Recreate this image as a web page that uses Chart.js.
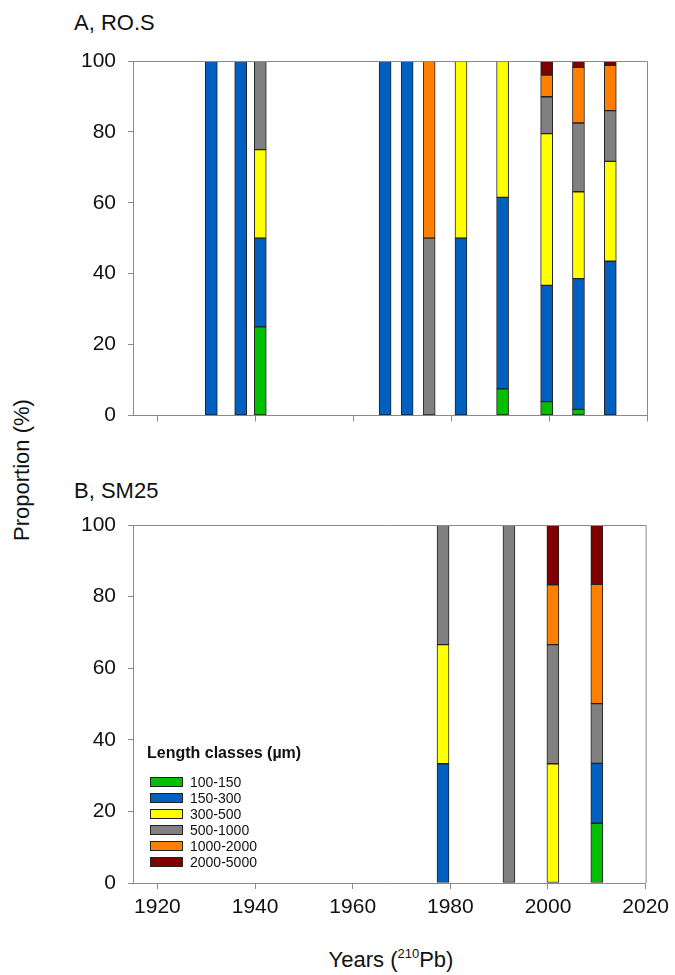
<!DOCTYPE html>
<html>
<head>
<meta charset="utf-8">
<script src="https://cdn.jsdelivr.net/npm/chart.js@4"></script>
<style>
  body { margin: 0; background: #fff; }
  #wrap { position: relative; width: 675px; height: 975px; font-family: "Liberation Sans", Arial, sans-serif; color: #111; }
  canvas { position: absolute; left: 0; }
  .lbl { position: absolute; font-size: 22px; white-space: nowrap; }
  sup { font-size: 13px; vertical-align: 9px; line-height: 0; }
</style>
</head>
<body>
<div id="wrap">
  <div class="lbl" style="left:74px; top:10px;">A, RO.S</div>
  <div class="lbl" style="left:74px; top:478px;">B, SM25</div>
  <div class="lbl" style="left:22px; top:470px; transform: translate(-50%,-50%) rotate(-90deg);">Proportion (%)</div>
  <div class="lbl" style="left:391px; top:960px; transform: translate(-50%,-50%);">Years (<sup>210</sup>Pb)</div>
  <canvas id="chartA" width="675" height="440" style="top:0"></canvas>
  <canvas id="chartB" width="675" height="515" style="top:460px"></canvas>
</div>
<script>
// length classes
const classes = ["100-150", "150-300", "300-500", "500-1000", "1000-2000", "2000-5000"];
const colors = ["#00c000", "#0060c0", "#ffff00", "#808080", "#ff8000", "#800000"];
const yearTicks = [1920, 1940, 1960, 1980, 2000, 2020];

// A, RO.S
const yearsA = [1931, 1937, 1941, 1966.5, 1971, 1975.5, 1982, 1990.5, 1999.5, 2006, 2012.5];
const a100_150   = [null, null, 25, null, null, null, null, 7.5, 3.9, 1.7, null];
const a150_300   = [100, 100, 25, 100, 100, null, 50, 54, 32.8, 36.9, 43.5];
const a300_500   = [null, null, 25, null, null, null, 50, 38.5, 42.8, 24.5, 28.2];
const a500_1000  = [null, null, 25, null, null, 50, null, null, 10.4, 19.4, 14.3];
const a1000_2000 = [null, null, null, null, null, 50, null, null, 6.1, 15.7, 12.8];
const a2000_5000 = [null, null, null, null, null, null, null, null, 4, 1.8, 1.2];

// B, SM25
const yearsB = [1978.5, 1992, 2001, 2010];
const b100_150   = [null, null, null, 16.7];
const b150_300   = [33.3, null, null, 16.7];
const b300_500   = [33.3, null, 33.3, null];
const b500_1000  = [33.3, 100, 33.3, 16.7];
const b1000_2000 = [null, null, 16.7, 33.3];
const b2000_5000 = [null, null, 16.7, 16.7];

const seriesA = [a100_150, a150_300, a300_500, a500_1000, a1000_2000, a2000_5000];
const seriesB = [b100_150, b150_300, b300_500, b500_1000, b1000_2000, b2000_5000];

const font = "'Liberation Sans', Arial, sans-serif";
const axisColor = "#8a8a8a";

function makeDatasets(years, series) {
  return series.map((vals, i) => ({
    label: classes[i],
    data: years.map((y, j) => ({ x: y, y: vals[j] })).filter(p => p.y !== null),
    backgroundColor: colors[i],
    borderColor: "#222",
    borderWidth: 1,
    borderSkipped: false,
    barThickness: 12,
  }));
}

// box round the plot area
const frame = {
  id: "frame",
  afterDraw(chart) {
    const { ctx, chartArea: a } = chart;
    ctx.save();
    ctx.strokeStyle = axisColor;
    ctx.lineWidth = 1;
    ctx.beginPath();
    ctx.moveTo(a.left, a.top + 0.5);
    ctx.lineTo(a.right + 0.5, a.top + 0.5);
    ctx.lineTo(a.right + 0.5, a.bottom);
    ctx.stroke();
    ctx.restore();
  }
};

// legend drawn inside panel B
const legendIn = {
  id: "legendIn",
  afterDraw(chart) {
    if (!chart.options.plugins.legendIn) return;
    const { ctx, chartArea: a } = chart;
    ctx.save();
    ctx.fillStyle = "#111";
    ctx.font = "bold 16px " + font;
    ctx.textBaseline = "alphabetic";
    ctx.fillText("Length classes (µm)", a.left + 14, a.bottom - 125);
    ctx.font = "14px " + font;
    ctx.textBaseline = "middle";
    chart.data.datasets.forEach((ds, i) => {
      const cy = a.bottom - 101 + i * 16;
      ctx.fillStyle = ds.backgroundColor;
      ctx.fillRect(a.left + 17, cy - 4.5, 32, 9);
      ctx.strokeStyle = "#222";
      ctx.lineWidth = 1;
      ctx.strokeRect(a.left + 17.5, cy - 4.5, 32, 9);
      ctx.fillStyle = "#111";
      ctx.fillText(ds.label, a.left + 57, cy + 1);
    });
    ctx.restore();
  }
};

function makeChart(id, years, series, opts) {
  return new Chart(document.getElementById(id), {
    type: "bar",
    data: { datasets: makeDatasets(years, series) },
    options: {
      responsive: false,
      animation: false,
      layout: { padding: { top: opts.top, right: 28, left: 0, bottom: 0 } },
      plugins: {
        legend: { display: false },
        tooltip: { enabled: false },
        legendIn: opts.legend,
      },
      scales: {
        x: {
          type: "linear",
          stacked: true,
          offset: false,
          min: 1915,
          max: 2020,
          afterBuildTicks: s => { s.ticks = yearTicks.map(v => ({ value: v })); },
          afterFit: s => { s.height = opts.xHeight; },
          ticks: {
            display: opts.xLabels,
            callback: v => String(v),
            font: { family: font, size: 21 },
            color: "#111",
            padding: 6,
            maxRotation: 0,
          },
          grid: { drawOnChartArea: false, offset: false, tickLength: 6, color: axisColor },
          border: { color: axisColor },
        },
        y: {
          stacked: true,
          min: 0,
          max: 100,
          afterFit: s => { s.width = 133; },
          ticks: {
            stepSize: 20,
            font: { family: font, size: 21 },
            color: "#111",
            padding: 12,
          },
          grid: { drawOnChartArea: false, tickLength: 5, color: axisColor },
          border: { color: axisColor },
        }
      }
    },
    plugins: [frame, legendIn]
  });
}

makeChart("chartA", yearsA, seriesA, { top: 61, xHeight: 20, xLabels: false, legend: false });
makeChart("chartB", yearsB, seriesB, { top: 65, xHeight: 92, xLabels: true, legend: true });
</script>
</body>
</html>
